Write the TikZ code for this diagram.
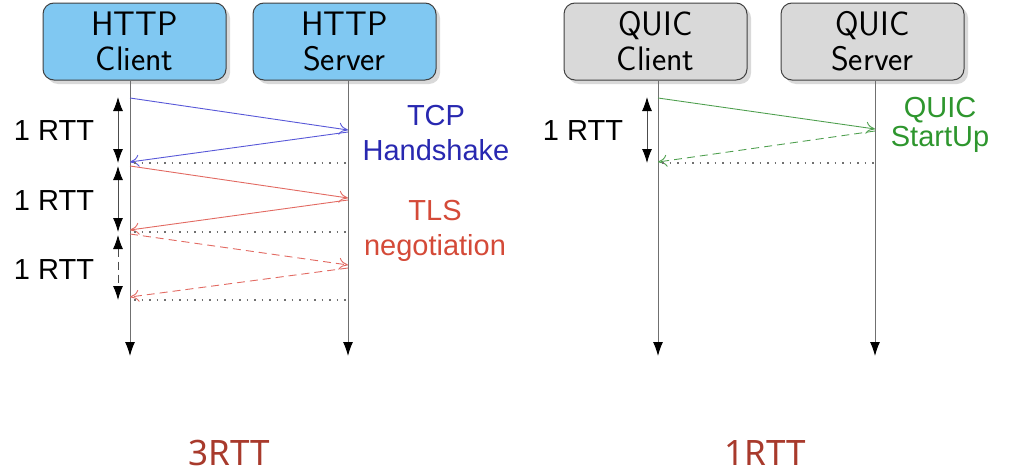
\documentclass[tikz,border=0pt]{standalone}
\usepackage{fontspec}
\newfontfamily\labfont{Liberation Sans}
\newfontfamily\totfont{Noto Sans}
\usetikzlibrary{arrows.meta,shadows}
\definecolor{hbox}{HTML}{80C8F2}
\definecolor{qbox}{HTML}{D9D9D9}
\definecolor{bblue}{HTML}{2828B0}
\definecolor{ablue}{HTML}{5858D8}
\definecolor{rred}{HTML}{D44A38}
\definecolor{ared}{HTML}{E26A62}
\definecolor{ggreen}{HTML}{2E962E}
\definecolor{agreen}{HTML}{50A050}
\definecolor{brn}{HTML}{A83A2C}
\definecolor{life}{HTML}{707070}
\begin{document}
\begin{tikzpicture}[x=1pt,y=-1pt,
  actor/.style={draw=black!75,line width=1pt,rounded corners=11pt,minimum width=183pt,minimum height=77pt,
    align=center,font=\sffamily\fontsize{34}{35}\selectfont,inner sep=0pt,
    drop shadow={shadow xshift=4pt,shadow yshift=-4pt,fill=black!25,opacity=0.6}},
  lifeline/.style={draw=life,line width=1pt,-{Latex[length=14pt,width=10pt,color=black]}},
  msg/.style={line width=0.9pt,-{To[length=9pt,width=12pt]}},
  guide/.style={draw=life,line width=1.2pt,dash pattern=on 1.5pt off 6pt},
  rtt/.style={line width=0.9pt,draw=black!70,{Latex[length=14pt,width=10pt,color=black]}-{Latex[length=14pt,width=10pt,color=black]}},
  rttlab/.style={font=\labfont\fontsize{29}{30}\selectfont},
  phase/.style={font=\labfont\fontsize{29}{35}\selectfont,align=center},
  total/.style={font=\totfont\fontsize{35}{38}\selectfont,text=brn,inner sep=0pt}]
\useasboundingbox (0,0) rectangle (1012,474);
% actors
\node[actor,fill=hbox] (hc) at (134.5,41.5) {HTTP\\Client};
\node[actor,fill=hbox] (hs) at (344.5,41.5) {HTTP\\Server};
\node[actor,fill=qbox] (qc) at (655.5,41.5) {QUIC\\Client};
\node[actor,fill=qbox] (qs) at (872.5,41.5) {QUIC\\Server};
% lifeline ends
\coordinate (hce) at (130,356);
\coordinate (hse) at (348,356);
\coordinate (qce) at (658,356);
\coordinate (qse) at (875,356);
\draw[lifeline] (hc.south -| hce) -- (hce);
\draw[lifeline] (hs.south -| hse) -- (hse);
\draw[lifeline] (qc.south -| qce) -- (qce);
\draw[lifeline] (qs.south -| qse) -- (qse);
% message points
\coordinate (c1) at (130,98);  \coordinate (s1) at (348,130);
\coordinate (s1b) at (348,132); \coordinate (c2) at (130,162);
\coordinate (c2b) at (130,166); \coordinate (s2) at (348,198);
\coordinate (s2b) at (348,200); \coordinate (c3) at (130,230);
\coordinate (c3b) at (130,234); \coordinate (s3) at (348,265);
\coordinate (s3b) at (348,268); \coordinate (c4) at (130,297);
\coordinate (g1) at (134,163); \coordinate (g1s) at (348,163);
\coordinate (g2) at (134,232); \coordinate (g2s) at (348,232);
\coordinate (g3) at (134,300); \coordinate (g3s) at (348,300);
\draw[msg,ablue] (c1) -- (s1);
\draw[msg,ablue] (s1b) -- (c2);
\draw[msg,ared] (c2b) -- (s2);
\draw[msg,ared] (s2b) -- (c3);
\draw[msg,ared,dash pattern=on 8pt off 5pt] (c3b) -- (s3);
\draw[msg,ared,dash pattern=on 8pt off 5pt] (s3b) -- (c4);
\draw[guide] (g1) -- (g1s);
\draw[guide] (g2) -- (g2s);
\draw[guide] (g3) -- (g3s);
% RTT brackets
\coordinate (r1a) at (118,97);  \coordinate (r1b) at (118,163);
\coordinate (r2a) at (118,166); \coordinate (r2b) at (118,232);
\coordinate (r3a) at (118,235); \coordinate (r3b) at (118,300);
\draw[rtt] (r1a) -- (r1b);
\draw[rtt] (r2a) -- (r2b);
\draw[rtt,dash pattern=on 8pt off 5pt] (r3a) -- (r3b);
\node[rttlab] (l1) at (54,131) {1 RTT};
\node[rttlab] (l2) at (54,201) {1 RTT};
\node[rttlab] (l3) at (54,270) {1 RTT};
\node[phase,text=bblue] (tcp) at (436,133) {TCP\\Handshake};
\node[phase,text=rred] (tls) at (435,231) {TLS\\negotiation};
% QUIC
\coordinate (qc1) at (658,98); \coordinate (qs1) at (875,129);
\coordinate (qs1b) at (875,131); \coordinate (qc2) at (658,162);
\coordinate (qg) at (662,163); \coordinate (qgs) at (875,163);
\draw[msg,agreen] (qc1) -- (qs1);
\draw[msg,agreen,dash pattern=on 8pt off 5pt] (qs1b) -- (qc2);
\draw[guide] (qg) -- (qgs);
\coordinate (qr1) at (647,97); \coordinate (qr2) at (647,163);
\draw[rtt] (qr1) -- (qr2);
\node[rttlab] (ql) at (583,131) {1 RTT};
\node[phase,text=ggreen,font=\labfont\fontsize{29}{29}\selectfont] (qsu) at (940,125) {QUIC\\StartUp};
% totals
\node[total] (t3) at (229,453) {3RTT};
\node[total] (t1) at (765,453) {1RTT};
\end{tikzpicture}
\end{document}
